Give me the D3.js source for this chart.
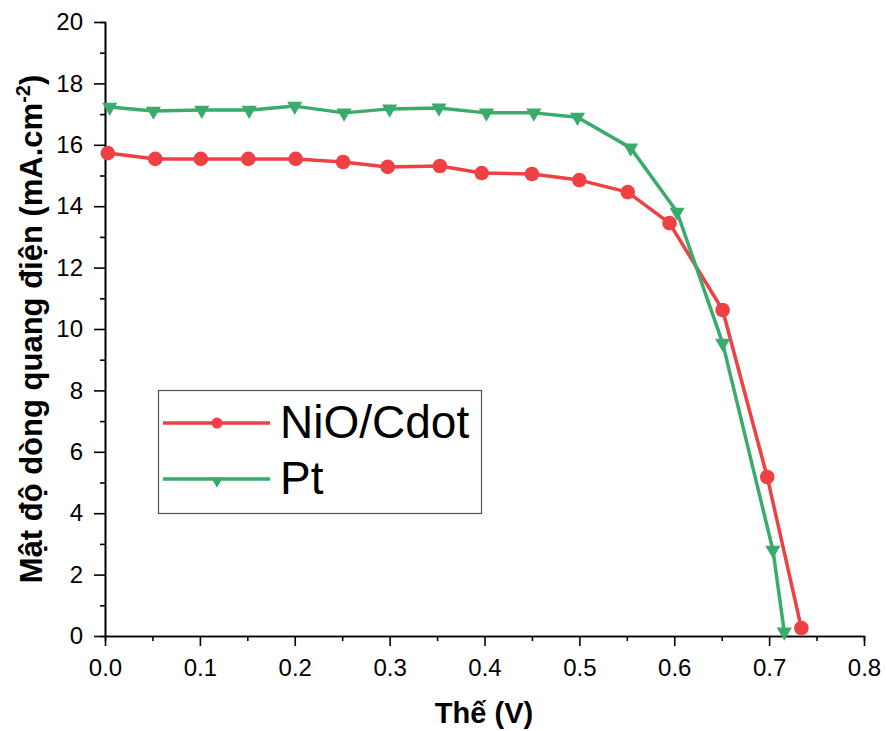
<!DOCTYPE html>
<html>
<head>
<meta charset="utf-8">
<script src="https://cdn.jsdelivr.net/npm/d3@7"></script>
<style>
  html, body { margin: 0; padding: 0; background: #fff; }
  svg { display: block; font-family: "Liberation Sans", Arial, sans-serif; }
</style>
</head>
<body>
<svg id="chart" width="886" height="731"></svg>
<script>
// ---- Data ----
const nioV = [0.003, 0.053, 0.101, 0.151, 0.201, 0.251, 0.298, 0.353, 0.397, 0.450, 0.500, 0.551, 0.595, 0.651, 0.698, 0.734];
const nioJ = [15.73, 15.54, 15.54, 15.54, 15.54, 15.44, 15.28, 15.31, 15.08, 15.05, 14.85, 14.46, 13.45, 10.62, 5.18, 0.26];
const ptV  = [0.005, 0.051, 0.102, 0.152, 0.200, 0.252, 0.300, 0.352, 0.402, 0.452, 0.498, 0.554, 0.603, 0.651, 0.704, 0.716];
const ptJ  = [17.23, 17.10, 17.13, 17.13, 17.26, 17.04, 17.17, 17.20, 17.04, 17.04, 16.90, 15.90, 13.81, 9.54, 2.80, 0.13];
const xTicks = [0, 0.1, 0.2, 0.3, 0.4, 0.5, 0.6, 0.7, 0.8];
const yTicks = [0, 2, 4, 6, 8, 10, 12, 14, 16, 18, 20];
const seriesNames = ["NiO/Cdot", "Pt"];
const xTitle = "Thế (V)";
const yTitle = "Mật độ dòng quang điện (mA.cm";

const RED = "#ef4043", GREEN = "#39ab6b";

const svg = d3.select("#chart");
const x = d3.scaleLinear().domain([0, 0.8]).range([105, 864]);
const y = d3.scaleLinear().domain([0, 20]).range([636, 22]);

// minor ticks
const xMinor = d3.range(0.05, 0.8, 0.1);
const yMinor = d3.range(1, 20, 2);

const axisStyle = g => {
  g.selectAll(".domain").attr("stroke", "#000").attr("stroke-width", 1.6);
  g.selectAll(".tick line").attr("stroke", "#000").attr("stroke-width", 1.6);
  g.selectAll("text").attr("fill", "#000").style("font-size", "24px")
   .style("font-family", '"Liberation Sans", Arial, sans-serif');
};

svg.append("g").attr("transform", "translate(0,636)")
  .call(d3.axisBottom(x).tickValues(xMinor).tickSize(5).tickFormat(""))
  .call(axisStyle);
svg.append("g").attr("transform", "translate(0,636)")
  .call(d3.axisBottom(x).tickValues(xTicks).tickSize(10).tickSizeOuter(0).tickPadding(13).tickFormat(d3.format(".1f")))
  .call(axisStyle);
svg.append("g").attr("transform", "translate(105,0)")
  .call(d3.axisLeft(y).tickValues(yMinor).tickSize(5).tickFormat(""))
  .call(axisStyle);
svg.append("g").attr("transform", "translate(105,0)")
  .call(d3.axisLeft(y).tickValues(yTicks).tickSize(11).tickSizeOuter(0).tickPadding(11).tickFormat(d3.format("d")))
  .call(axisStyle);

// axis titles
svg.append("text").attr("x", 484).attr("y", 723).attr("text-anchor", "middle")
  .style("font-size", "29px").style("font-weight", "bold").text(xTitle);

const yt = svg.append("text").attr("transform", "translate(42,329) rotate(-90)")
  .attr("text-anchor", "middle").style("font-size", "31px").style("font-weight", "bold");
yt.append("tspan").text(yTitle);
yt.append("tspan").attr("dy", -12).style("font-size", "20px").text("-2");
yt.append("tspan").attr("dy", 12).text(")");

// lines
const line = d3.line().x(d => x(d[0])).y(d => y(d[1]));
const nio = nioV.map((v, i) => [v, nioJ[i]]);
const pt = ptV.map((v, i) => [v, ptJ[i]]);

svg.append("path").datum(nio).attr("d", line).attr("fill", "none")
  .attr("stroke", RED).attr("stroke-width", 3.5).attr("stroke-linejoin", "round");
svg.append("path").datum(pt).attr("d", line).attr("fill", "none")
  .attr("stroke", GREEN).attr("stroke-width", 3.5).attr("stroke-linejoin", "round");

const tri = d3.symbol().type(d3.symbolTriangle).size(100);
svg.append("g").selectAll("circle").data(nio).join("circle")
  .attr("cx", d => x(d[0])).attr("cy", d => y(d[1])).attr("r", 7.3).attr("fill", RED);
svg.append("g").selectAll("path").data(pt).join("path")
  .attr("d", tri).attr("transform", d => `translate(${x(d[0])},${y(d[1])}) rotate(180)`)
  .attr("fill", GREEN);

// legend
const lg = svg.append("g");
lg.append("rect").attr("x", 158.5).attr("y", 390.5).attr("width", 323).attr("height", 123)
  .attr("fill", "#fff").attr("stroke", "#555").attr("stroke-width", 1.2);
const legendRows = [
  { name: seriesNames[0], color: RED, y: 423, sym: "circle" },
  { name: seriesNames[1], color: GREEN, y: 479, sym: "tri" }
];
legendRows.forEach(r => {
  lg.append("line").attr("x1", 163).attr("x2", 270).attr("y1", r.y).attr("y2", r.y)
    .attr("stroke", r.color).attr("stroke-width", 3.5);
  if (r.sym === "circle") {
    lg.append("circle").attr("cx", 217).attr("cy", r.y).attr("r", 5.5).attr("fill", r.color);
  } else {
    lg.append("path").attr("d", d3.symbol().type(d3.symbolTriangle).size(60))
      .attr("transform", `translate(217,${r.y + 2}) rotate(180)`).attr("fill", r.color);
  }
  lg.append("text").attr("x", 280).attr("y", r.y + 15).style("font-size", "46px").attr("fill", "#000").text(r.name);
});
</script>
</body>
</html>
